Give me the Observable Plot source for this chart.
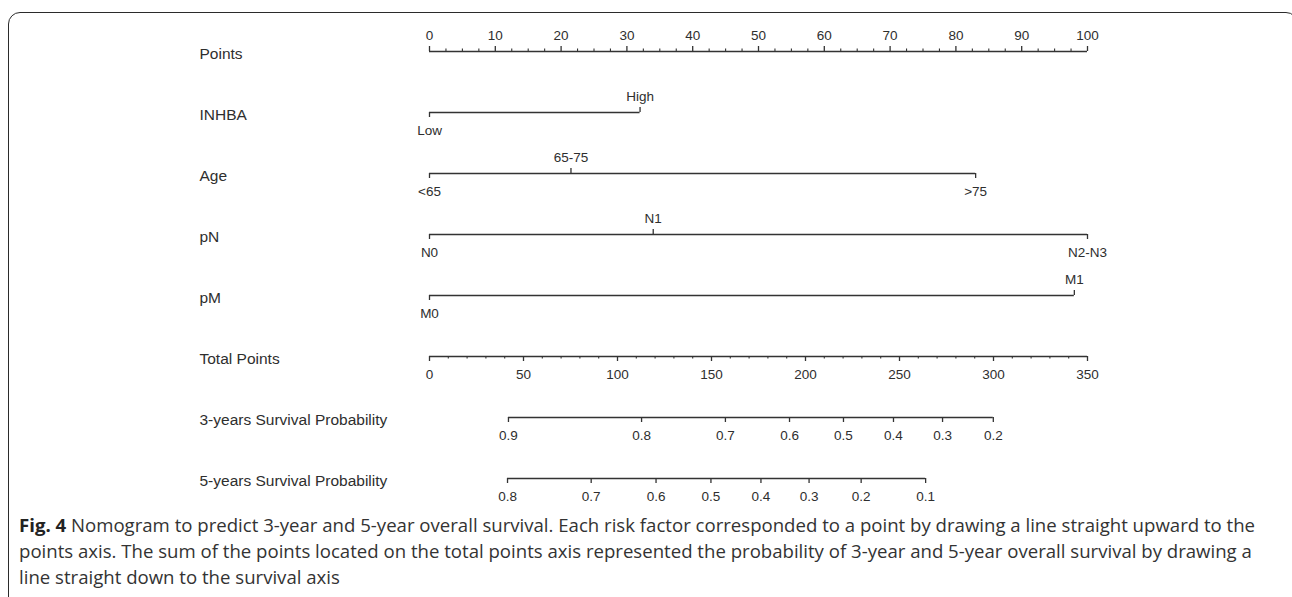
<!DOCTYPE html>
<html>
<head>
<meta charset="utf-8">
<script src="https://cdn.jsdelivr.net/npm/d3@7"></script>
<script src="https://cdn.jsdelivr.net/npm/@observablehq/plot@0.6"></script>
<style>
  html, body { margin: 0; padding: 0; background: #fff; }
  #wrap { position: relative; width: 1292px; height: 597px; overflow: hidden; background: #fff; }
  #frame { position: absolute; left: 8px; top: 12px; width: 1290px; height: 640px;
           border: 1.5px solid #2b2b2b; border-radius: 12px; box-sizing: border-box; }
  #chart { position: absolute; left: 0; top: 0; }
  #caption { position: absolute; left: 19px; top: 512px; font-family: "Open Sans", "Noto Sans", sans-serif;
             font-size: 18.6px; line-height: 26px; color: #333; white-space: nowrap; }
  #caption b { font-weight: 700; color: #222; }
</style>
</head>
<body>
<div id="wrap">
  <div id="frame"></div>
  <div id="chart"></div>
  <div id="caption">
    <div><b>Fig. 4</b> Nomogram to predict 3-year and 5-year overall survival. Each risk factor corresponded to a point by drawing a line straight upward to the</div>
    <div>points axis. The sum of the points located on the total points axis represented the probability of 3-year and 5-year overall survival by drawing a</div>
    <div>line straight down to the survival axis</div>
  </div>
</div>
<script>
// ---- data ----
const rowNames = ["Points", "INHBA", "Age", "pN", "pM", "Total Points",
  "3-years Survival Probability", "5-years Survival Probability"];

const pointsTicks = [0, 10, 20, 30, 40, 50, 60, 70, 80, 90, 100];
const pointsMinorStep = 2.5;

const inhbaLevels = ["Low", "High"];
const inhbaPoints = [0, 32];

const ageLevels = ["<65", "65-75", ">75"];
const agePoints = [0, 21.5, 83];

const pnLevels = ["N0", "N1", "N2-N3"];
const pnPoints = [0, 34, 100];

const pmLevels = ["M0", "M1"];
const pmPoints = [0, 98];

const totalTicks = [0, 50, 100, 150, 200, 250, 300, 350];
const totalMinorStep = 10;

const surv3Labels = ["0.9", "0.8", "0.7", "0.6", "0.5", "0.4", "0.3", "0.2"];
const surv3Total = [42, 112.8, 157.4, 191.5, 220.2, 246.8, 272.9, 299.9];

const surv5Labels = ["0.8", "0.7", "0.6", "0.5", "0.4", "0.3", "0.2", "0.1"];
const surv5Total = [41.5, 86, 120.5, 149.7, 176.3, 201.9, 229.6, 263.9];

// ---- build tables ----
const totalMax = totalTicks[totalTicks.length - 1];
const toPts = t => t * 100 / totalMax;

const lines = [];
const ticks = [];   // {row, x, dir, major}
const labels = [];  // {row, x, text, dir}

// Points axis (ticks up, labels above)
lines.push({row: rowNames[0], x1: pointsTicks[0], x2: pointsTicks[pointsTicks.length - 1]});
pointsTicks.forEach(v => { ticks.push({row: rowNames[0], x: v, dir: "up", major: true}); labels.push({row: rowNames[0], x: v, text: String(v), dir: "up"}); });
d3.range(0, 100 + 1e-9, pointsMinorStep).filter(v => !pointsTicks.includes(v))
  .forEach(v => ticks.push({row: rowNames[0], x: v, dir: "up", major: false}));

// Variables (alternating label side)
[[rowNames[1], inhbaLevels, inhbaPoints], [rowNames[2], ageLevels, agePoints],
 [rowNames[3], pnLevels, pnPoints], [rowNames[4], pmLevels, pmPoints]].forEach(([row, levs, pts]) => {
  lines.push({row, x1: d3.min(pts), x2: d3.max(pts)});
  levs.forEach((l, i) => {
    const dir = i % 2 === 0 ? "down" : "up";
    ticks.push({row, x: pts[i], dir, major: true});
    labels.push({row, x: pts[i], text: l, dir});
  });
});

// Total points axis (ticks down, labels below)
lines.push({row: rowNames[5], x1: 0, x2: toPts(totalMax)});
totalTicks.forEach(v => { ticks.push({row: rowNames[5], x: toPts(v), dir: "down", major: true}); labels.push({row: rowNames[5], x: toPts(v), text: String(v), dir: "down"}); });
d3.range(0, totalMax + 1e-9, totalMinorStep).filter(v => !totalTicks.includes(v))
  .forEach(v => ticks.push({row: rowNames[5], x: toPts(v), dir: "down", major: false}));

// Survival axes
[[rowNames[6], surv3Labels, surv3Total], [rowNames[7], surv5Labels, surv5Total]].forEach(([row, labs, tot]) => {
  lines.push({row, x1: toPts(d3.min(tot)), x2: toPts(d3.max(tot))});
  labs.forEach((l, i) => {
    ticks.push({row, x: toPts(tot[i]), dir: "down", major: true});
    labels.push({row, x: toPts(tot[i]), text: l, dir: "down"});
  });
});

const ink = "#333";
const txt = "#2e2e2e";
const font = "'Liberation Sans', Arial, sans-serif";

const tickOpts = (len, dir, major) => ({
  x: "x", y1: "row", y2: "row", stroke: ink, strokeWidth: major ? 1.3 : 1.1,
  ...(dir === "up" ? {insetTop: -len} : {insetBottom: -len})
});

const chart = Plot.plot({
  width: 1292,
  height: 515,
  marginLeft: 429,
  marginRight: 205,
  marginTop: 0,
  marginBottom: 0,
  style: {fontFamily: font, background: "transparent", overflow: "visible"},
  x: {domain: [0, 100], axis: null},
  y: {type: "point", domain: rowNames, range: [48, 480], padding: 0, axis: null},
  marks: [
    Plot.ruleY(lines, {y: "row", x1: "x1", x2: "x2", stroke: ink, strokeWidth: 1.5}),
    Plot.ruleX(ticks.filter(d => d.dir === "up" && d.major), tickOpts(5, "up", true)),
    Plot.ruleX(ticks.filter(d => d.dir === "up" && !d.major), tickOpts(2.5, "up", false)),
    Plot.ruleX(ticks.filter(d => d.dir === "down" && d.major), tickOpts(5, "down", true)),
    Plot.ruleX(ticks.filter(d => d.dir === "down" && !d.major), tickOpts(2.5, "down", false)),
    Plot.text(labels.filter(d => d.dir === "up"), {x: "x", y: "row", text: "text", dy: -16, fill: txt, fontSize: 13.5, lineAnchor: "middle"}),
    Plot.text(labels.filter(d => d.dir === "down"), {x: "x", y: "row", text: "text", dy: 18, fill: txt, fontSize: 13.5, lineAnchor: "middle"}),
    Plot.text(rowNames, {y: d => d, text: d => d, frameAnchor: "left", dx: -230, dy: 3, textAnchor: "start", fill: txt, fontSize: 15.5, lineAnchor: "middle"})
  ]
});
document.getElementById("chart").appendChild(chart);
</script>
</body>
</html>
